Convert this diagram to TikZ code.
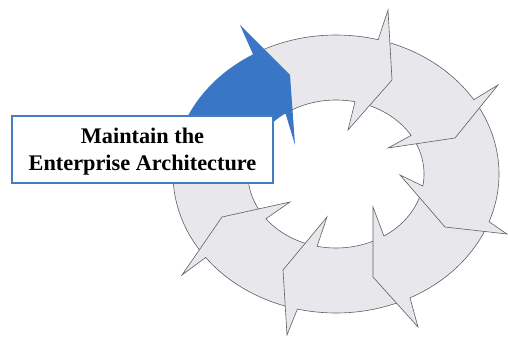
\documentclass[tikz,border=0pt]{standalone}
\usepackage{fontspec}
\setmainfont{Liberation Serif}
\definecolor{segGray}{RGB}{231,231,236}
\definecolor{segLine}{RGB}{95,95,100}
\definecolor{segBlue}{RGB}{58,118,198}
\definecolor{boxBlue}{RGB}{70,124,192}
\def\ECx{336}
\def\ECy{174}
\def\EOa{163}
\def\EOb{139}
\def\EIa{88}
\def\EIb{74}
\newcommand\ringseg[8]{%
  \path[#1] plot[domain=#2:#3,samples=40] ({\ECx+\EOa*cos(\x)},{\ECy+\EOb*sin(\x)})
    -- #4 -- #5 -- #6
    -- plot[domain=#7:#8,samples=40] ({\ECx+\EIa*cos(\x)},{\ECy+\EIb*sin(\x)}) -- cycle;}
\tikzset{
  graySeg/.style={fill=segGray, draw=segLine, line width=0.6pt, line join=miter},
  blueSeg/.style={fill=segBlue},
  labelbox/.style={draw=boxBlue, fill=white, line width=1.8pt, minimum width=261pt,
    minimum height=67pt, inner sep=0pt, align=center,
    font=\bfseries\fontsize{22.3}{27}\selectfont}
}
\begin{document}
\begin{tikzpicture}[x=1pt,y=-1pt]
\useasboundingbox (0,0) rectangle (508,337);
% segment hidden end under the label
\path[graySeg] plot[domain=503.1:550,samples=40] ({\ECx+\EOa*cos(\x)},{\ECy+\EOb*sin(\x)})
  -- plot[domain=550:502.8,samples=40] ({\ECx+\EIa*cos(\x)},{\ECy+\EIb*sin(\x)}) -- cycle;
\ringseg{graySeg}{463.7}{503.1}{(182,275)}{(222,217)}{(290,202)}{502.8}{462.4}
\ringseg{graySeg}{423}{463.7}{(287,335)}{(283,270)}{(327,217)}{462.4}{417}
\ringseg{graySeg}{380.1}{423}{(418,327)}{(373,277)}{(373,207)}{417}{369.3}
\ringseg{graySeg}{327.7}{380.1}{(507,234)}{(445,227)}{(400,175)}{369.3}{328.6}
\ringseg{graySeg}{285}{327.7}{(498,85)}{(455,138)}{(388,148)}{328.6}{282.5}
\ringseg{graySeg}{239.4}{285}{(388,10)}{(392,80)}{(348,130)}{282.5}{235}
\ringseg{blueSeg}{185}{239.4}{(240,25)}{(290,75)}{(295,145)}{235}{185}
\node[labelbox] (label) at (142.5,149.5) {\rule{0pt}{19pt}Maintain the\\Enterprise Architecture};
\end{tikzpicture}
\end{document}
